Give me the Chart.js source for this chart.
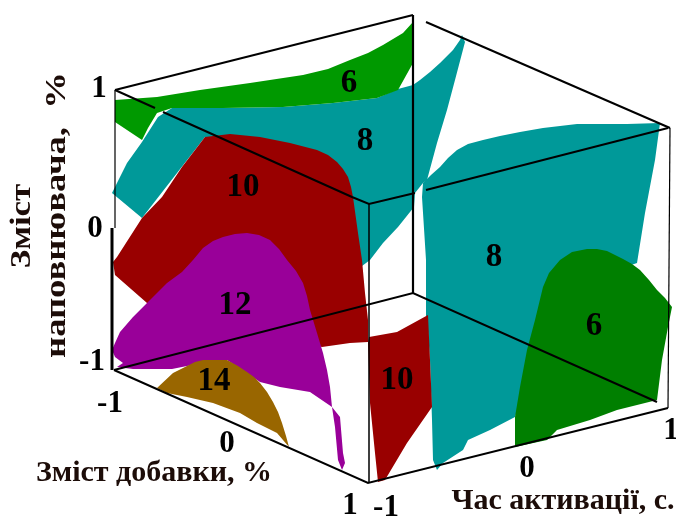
<!DOCTYPE html>
<html>
<head>
<meta charset="utf-8">
<script src="https://cdn.jsdelivr.net/npm/chart.js@4"></script>
<style>
html, body { margin: 0; padding: 0; background: #fff; }
#wrap { width: 676px; height: 520px; }
</style>
</head>
<body>
<div id="wrap"><canvas id="cubeChart" width="676" height="520"></canvas></div>
<script>
// contour regions in plot units (bottom ones first)
const tealTop = [[158,117],[172,108],[223,108],[283,107],[333,103],[377,98],[398,89],[413,85],[420,80],[430,72],[440,63],[453,50],[460,40],[462,35],[465,42],[455,80],[447,110],[437,143],[427,180],[423,183],[415,193],[414,207],[398,227],[383,243],[370,260],[362,266],[300,200],[205,137],[142,218],[112,193],[127,163],[142,142]];
const tealRight = [[423,183],[431,175],[440,167],[448,158],[457,150],[468,144],[483,140],[500,136],[520,132],[543,128],[577,124],[627,124],[660,123],[655,160],[645,213],[637,263],[560,290],[515,417],[490,430],[468,440],[463,450],[443,463],[437,470],[433,460],[432,420],[430,360],[427,317],[426,260],[422,197]];
const greenTop = [[115,100],[157,97],[200,90],[250,83],[303,75],[328,69],[350,60],[368,53],[383,45],[403,33],[413,22],[413,63],[398,90],[377,98],[333,103],[283,107],[223,108],[172,108],[157,113],[148,128],[142,140],[130,132],[115,122]];
const greenRight = [[543,287],[549,273],[560,260],[572,252],[587,249],[597,249],[607,251],[623,259],[632,264],[640,270],[649,280],[657,290],[665,298],[672,307],[668,327],[662,360],[657,400],[617,410],[590,420],[557,430],[547,440],[515,447],[515,417],[520,387],[527,350],[535,320]];
const redLarge = [[205,137],[230,134],[260,137],[290,143],[317,150],[328,155],[337,162],[343,169],[348,177],[351,187],[353,197],[358,233],[362,260],[365,293],[368,320],[368,342],[350,343],[322,347],[147,303],[115,275],[113,262],[117,257],[142,218],[162,197],[182,167]];
const redLower = [[369,337],[397,332],[428,315],[430,360],[432,407],[407,443],[385,480],[378,482],[375,453],[370,403],[368,343]];
const magenta = [[193,260],[203,248],[213,241],[223,237],[235,234],[247,233],[259,235],[270,240],[279,249],[287,260],[296,271],[303,283],[307,296],[310,310],[317,333],[323,353],[327,370],[330,387],[332,407],[340,417],[343,453],[345,463],[342,470],[338,460],[335,427],[332,407],[310,392],[280,387],[260,382],[227,360],[187,366],[172,369],[133,369],[117,367],[123,363],[115,357],[112,350],[115,343],[120,332],[133,317],[147,303],[167,283],[182,272]];
const brown = [[157,388],[173,373],[187,366],[195,362],[203,360],[216,360],[227,360],[238,366],[247,372],[254,377],[260,383],[267,392],[273,402],[278,412],[282,423],[286,436],[289,447],[277,433],[257,423],[240,413],[213,403],[187,397],[167,393]];

// cube edges
const edges = [
  [[115,90],[155,108]], [[163,112],[352,197],[369,204],[415,193]], [[426,190],[668,128]],
  [[115,90],[413,15]], [[426,22],[670,128]],
  [[115,90],[115,228]], [[112,228],[112,370]],
  [[369,204],[369,483]], [[413,15],[413,293]], [[670,128],[668,408]],
  [[114,370],[413,293],[657,402]], [[114,370],[368,483],[668,408]]
];
const edgeWidths = [2, 2, 2, 2, 2, 1.2, 3, 1.5, 2.2, 1.2, 2, 2];

const regionColors = ['#009999','#009999','#009900','#007f00','#990000','#990000','#990099','#996600'];
const regions = [tealTop, tealRight, greenTop, greenRight, redLarge, redLower, magenta, brown];

const contourLabels = [['6',349,83],['8',365,141],['10',243,187],['8',494,257],['6',594,326],['12',235,305],['14',214,381],['10',397,380]];
const tickLabels = [['1',99,89],['0',95,229],['-1',92,362],['-1',110,404],['0',227,444],['1',350,506],['-1',386,508],['0',527,469],['1',671,431]];
// text, x, y, rotation, horizontal stretch
const axisTitles = [
  ['Зміст добавки, %',154,473,0,1],
  ['Час активації, с.',563,501,0,1],
  ['Зміст',22,226,-Math.PI/2,1.16],
  ['наповнювача,  %',57,215,-Math.PI/2,1.22]
];

function toPoints(list) {
  return list.map(p => ({ x: p[0], y: p[1] }));
}

const datasets = [];
regions.forEach((r, i) => {
  datasets.push({
    data: toPoints(r),
    borderColor: regionColors[i],
    backgroundColor: regionColors[i],
    borderWidth: 0,
    fill: 'shape',
    order: 100 - i
  });
});
edges.forEach((e, i) => {
  datasets.push({
    data: toPoints(e),
    borderColor: '#000',
    borderWidth: edgeWidths[i],
    fill: false,
    order: 1
  });
});

const textPlugin = {
  id: 'cubeText',
  afterDraw(chart) {
    const { ctx, scales } = chart;
    const put = (t, x, y, font, color, rot, stretch) => {
      ctx.save();
      ctx.translate(scales.x.getPixelForValue(x), scales.y.getPixelForValue(y));
      ctx.rotate(rot || 0);
      ctx.scale(stretch || 1, 1);
      ctx.font = font;
      ctx.fillStyle = color;
      ctx.textAlign = 'center';
      ctx.textBaseline = 'middle';
      ctx.fillText(t, 0, 0);
      ctx.restore();
    };
    contourLabels.forEach(l => put(l[0], l[1], l[2], 'bold 33px "Liberation Serif"', '#000'));
    tickLabels.forEach(l => put(l[0], l[1], l[2], 'bold 31px "Liberation Serif"', '#000'));
    axisTitles.forEach(l => put(l[0], l[1], l[2], 'bold 30px "Liberation Serif"', '#1c0c08', l[3], l[4]));
  }
};

new Chart(document.getElementById('cubeChart'), {
  type: 'scatter',
  data: { datasets },
  plugins: [textPlugin],
  options: {
    responsive: false,
    animation: false,
    layout: { padding: 0 },
    showLine: true,
    elements: { point: { radius: 0 }, line: { tension: 0 } },
    plugins: { legend: { display: false }, tooltip: { enabled: false } },
    scales: {
      x: { type: 'linear', min: 0, max: 676, display: false },
      y: { type: 'linear', min: 0, max: 520, reverse: true, display: false }
    }
  }
});
</script>
</body>
</html>
